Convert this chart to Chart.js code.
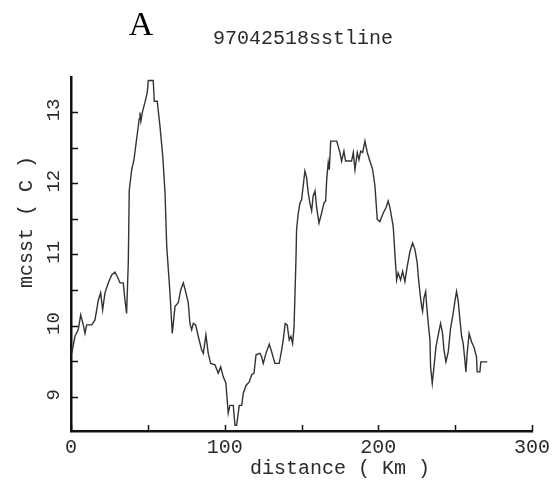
<!DOCTYPE html>
<html>
<head>
<meta charset="utf-8">
<script src="https://cdn.jsdelivr.net/npm/chart.js@4.4.0/dist/chart.umd.min.js"></script>
<style>
  body { margin: 0; background: #fff; }
  #wrap { width: 554px; height: 489px; }
</style>
</head>
<body>
<div id="wrap"><canvas id="myChart" width="554" height="489"></canvas></div>
<script>
var distance = [0.5, 2.6, 4.7, 6.3, 8.0, 9.1, 10.2, 13.5, 15.6, 17.8, 19.3, 20.6, 22.1, 24.3, 26.5, 28.6, 30.1, 31.9, 34.0, 35.1,
  36.2, 37.3, 37.9, 39.5, 41.0, 42.7, 44.4, 44.9, 45.5, 46.6, 48.1, 49.6, 50.3, 53.5, 54.2, 56.1, 57.9, 59.7, 61.2, 62.3,
  64.4, 65.9, 67.7, 69.8, 71.4, 73.1, 74.8, 76.3, 77.4, 78.5, 79.6, 81.1, 82.8, 85.0, 86.1, 87.8, 89.3, 90.9, 93.7, 95.8,
  97.4, 99.1, 100.8, 102.3, 103.4, 105.6, 106.7, 107.8, 109.5, 111.1, 112.1, 113.9, 116.0, 117.6, 119.1, 120.4, 123.0, 124.1, 125.1, 126.9,
  129.0, 130.6, 132.7, 135.5, 137.1, 138.1, 139.4, 140.7, 142.0, 143.1, 144.2, 145.1, 145.7, 146.4, 146.8, 147.9, 149.0, 150.1, 151.1, 152.2,
  153.3, 154.4, 155.5, 156.6, 157.6, 158.8, 159.9, 161.4, 163.1, 164.6, 165.7, 166.4, 167.4, 168.1, 169.0, 172.9, 175.0, 176.1, 177.6, 178.7,
  182.6, 183.7, 184.8, 186.3, 187.4, 188.5, 189.8, 191.3, 192.8, 194.5, 196.3, 197.8, 199.3, 201.0, 203.2, 204.9, 206.4, 207.6, 209.7, 210.8,
  211.9, 212.9, 214.5, 215.8, 217.3, 218.8, 220.6, 222.3, 223.8, 225.3, 226.0, 227.1, 228.2, 228.8, 229.7, 230.8, 231.5, 232.5, 233.6, 234.0,
  235.1, 236.2, 237.5, 239.0, 240.5, 241.8, 242.7, 244.0, 245.5, 247.0, 248.7, 249.8, 250.9, 252.0, 253.1, 254.2, 255.2, 256.3, 257.0, 257.8,
  259.1, 260.7, 262.2, 263.9, 264.3, 266.1, 266.7, 270.9];
var mcsst = [9.61, 9.85, 9.94, 10.15, 10.01, 9.89, 10.01, 10.01, 10.08, 10.36, 10.46, 10.22, 10.46, 10.6, 10.71, 10.75, 10.69, 10.6, 10.6, 10.36,
  10.17, 10.9, 11.9, 12.19, 12.33, 12.62, 12.9, 12.99, 12.87, 13.01, 13.13, 13.27, 13.44, 13.44, 13.15, 13.15, 12.8, 12.38, 11.86, 11.11,
  10.46, 9.89, 10.27, 10.32, 10.5, 10.6, 10.46, 10.32, 10.03, 9.94, 10.03, 10.01, 9.85, 9.66, 9.61, 9.87, 9.61, 9.47, 9.45, 9.33,
  9.42, 9.28, 9.19, 8.77, 8.88, 8.88, 8.6, 8.6, 8.88, 8.88, 9.05, 9.16, 9.21, 9.31, 9.33, 9.59, 9.61, 9.56, 9.47, 9.61,
  9.74, 9.63, 9.47, 9.47, 9.66, 9.8, 10.03, 10.01, 9.8, 9.85, 9.75, 9.96, 10.39, 10.93, 11.35, 11.58, 11.72, 11.77, 11.96, 12.17,
  12.08, 11.86, 11.72, 11.61, 11.82, 11.89, 11.65, 11.44, 11.58, 11.72, 11.75, 12.05, 12.29, 12.19, 12.59, 12.59, 12.43, 12.31, 12.45, 12.31,
  12.31, 12.43, 12.19, 12.43, 12.33, 12.45, 12.43, 12.59, 12.43, 12.31, 12.19, 11.96, 11.49, 11.46, 11.58, 11.65, 11.75, 11.65, 11.39, 11.0,
  10.64, 10.74, 10.64, 10.76, 10.62, 10.83, 11.04, 11.16, 11.07, 10.88, 10.69, 10.46, 10.27, 10.2, 10.39, 10.48, 10.27, 10.03, 9.8, 9.42,
  9.19, 9.42, 9.7, 9.87, 10.03, 9.89, 9.66, 9.49, 9.63, 9.96, 10.17, 10.34, 10.48, 10.34, 10.08, 9.85, 9.75, 9.52, 9.35, 9.61,
  9.89, 9.77, 9.7, 9.56, 9.35, 9.35, 9.49, 9.49];

var xTicks = [0, 50, 100, 150, 200, 250, 300];
var xLabels = [0, 100, 200, 300];
var yTicks = [9, 9.5, 10, 10.5, 11, 11.5, 12, 12.5, 13];
var yLabels = [9, 10, 11, 12, 13];

var mono = "'Liberation Mono', 'DejaVu Sans Mono', monospace";
var ink = "#2a2a2a";

var points = distance.map(function (d, i) { return {x: d, y: mcsst[i]}; });

// inward tick marks, rotated y labels and the free text
var decor = {
  id: "decor",
  afterDraw: function (chart) {
    var ctx = chart.ctx;
    var xs = chart.scales.x, ys = chart.scales.y;
    var a = chart.chartArea;
    ctx.save();
    ctx.strokeStyle = "#111";
    ctx.lineWidth = 1.5;
    ctx.beginPath();
    xTicks.forEach(function (v) {
      var px = Math.round(xs.getPixelForValue(v)) + 0.5;
      ctx.moveTo(px, a.bottom);
      ctx.lineTo(px, a.bottom - 6);
    });
    yTicks.forEach(function (v) {
      var py = Math.round(ys.getPixelForValue(v)) + 0.5;
      ctx.moveTo(a.left, py);
      ctx.lineTo(a.left + 7, py);
    });
    ctx.stroke();

    ctx.fillStyle = ink;
    ctx.font = "19px " + mono;
    ctx.textAlign = "center";
    ctx.textBaseline = "middle";
    yLabels.forEach(function (v) {
      var py = ys.getPixelForValue(v) - 2;
      ctx.save();
      ctx.translate(54, py);
      ctx.rotate(-Math.PI / 2);
      ctx.fillText(String(v), 0, 0);
      ctx.restore();
    });

    // axis titles
    ctx.font = "20px " + mono;
    ctx.fillText("distance ( Km )", 340, 469);
    ctx.save();
    ctx.translate(27, 222);
    ctx.rotate(-Math.PI / 2);
    ctx.fillText("mcsst ( C )", 0, 0);
    ctx.restore();

    // title and panel letter
    ctx.font = "20px " + mono;
    ctx.textBaseline = "alphabetic";
    ctx.fillText("97042518sstline", 303, 44);
    ctx.fillStyle = "#000";
    ctx.font = "34px 'Liberation Serif', 'DejaVu Serif', serif";
    ctx.fillText("A", 141, 35);
    ctx.restore();
  }
};

new Chart("myChart", {
  type: "line",
  data: {
    datasets: [{
      data: points,
      borderColor: "#333",
      borderWidth: 1.4,
      pointRadius: 0,
      tension: 0,
      fill: false
    }]
  },
  options: {
    responsive: false,
    animation: false,
    layout: {padding: {left: 0, right: 22, top: 77, bottom: 0}},
    plugins: {legend: {display: false}, tooltip: {enabled: false}},
    scales: {
      x: {
        type: "linear",
        position: "bottom",
        min: 0,
        max: 300,
        afterBuildTicks: function (s) { s.ticks = xLabels.map(function (v) { return {value: v}; }); },
        afterFit: function (s) { s.height = 58; },
        grid: {display: false},
        border: {display: true, color: "#111", width: 2.5},
        ticks: {
          color: ink,
          font: {family: mono, size: 20},
          maxRotation: 0,
          autoSkip: false,
          padding: -3
        }
      },
      y: {
        type: "linear",
        min: 8.52,
        max: 13.49,
        afterBuildTicks: function (s) { s.ticks = yTicks.map(function (v) { return {value: v}; }); },
        afterFit: function (s) { s.width = 71; },
        grid: {display: false},
        border: {display: true, color: "#111", width: 2.5},
        ticks: {display: false}
      }
    }
  },
  plugins: [decor]
});
</script>
</body>
</html>
